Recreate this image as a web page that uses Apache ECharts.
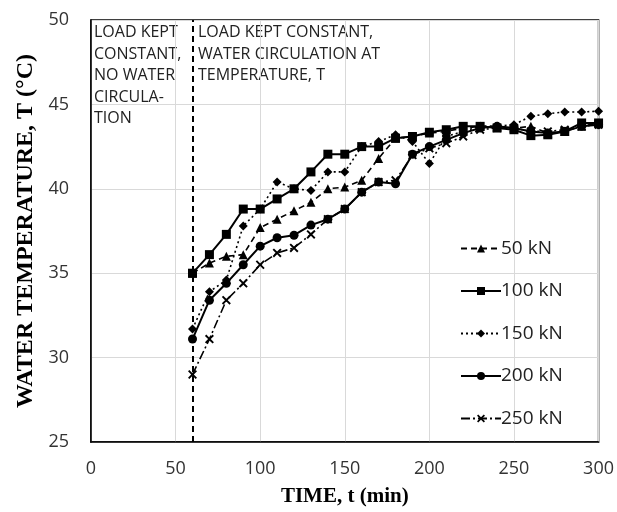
<!DOCTYPE html>
<html><head><meta charset="utf-8">
<script src="https://cdn.jsdelivr.net/npm/echarts@6/dist/echarts.min.js"></script>
<style>html,body{margin:0;padding:0;background:#fff}#c{width:617px;height:512px}</style>
</head><body><div id="c"></div>
<script>
const time = [60,70,80,90,100,110,120,130,140,150,160,170,180,190,200,210,220,230,240,250,260,270,280,290,300];
const s50  = [35.0,35.6,36.0,36.1,37.7,38.2,38.7,39.2,40.0,40.1,40.5,41.8,43.0,43.1,43.3,43.4,43.6,43.7,43.7,43.6,43.7,43.3,43.4,43.7,43.9];
const s100 = [35.0,36.1,37.3,38.8,38.8,39.4,40.0,41.0,42.05,42.05,42.5,42.5,43.0,43.1,43.35,43.5,43.7,43.7,43.6,43.5,43.15,43.2,43.4,43.9,43.9];
const s150 = [31.7,33.9,34.6,37.8,38.8,40.4,40.0,39.9,41.0,41.0,42.5,42.8,43.2,42.8,41.5,43.1,43.4,43.7,43.7,43.8,44.3,44.45,44.55,44.55,44.6];
const s200 = [31.1,33.4,34.4,35.5,36.6,37.1,37.25,37.85,38.2,38.8,39.8,40.4,40.3,42.05,42.5,42.9,43.3,43.6,43.7,43.6,43.4,43.3,43.4,43.7,43.8];
const s250 = [29.0,31.1,33.4,34.4,35.5,36.2,36.5,37.3,38.2,38.8,39.8,40.4,40.5,42.0,42.4,42.7,43.1,43.5,43.6,43.6,43.4,43.4,43.5,43.7,43.8];
const seriesNames = ['50 kN','100 kN','150 kN','200 kN','250 kN'];
const phaseX = 60;
const noteLeft = 'LOAD KEPT\nCONSTANT,\nNO WATER\nCIRCULA-\nTION';
const noteRight = 'LOAD KEPT CONSTANT,\nWATER CIRCULATION AT\nTEMPERATURE, T';

const xPath = 'path://M0,1.5 L1.5,0 L5,3.5 L8.5,0 L10,1.5 L6.5,5 L10,8.5 L8.5,10 L5,6.5 L1.5,10 L0,8.5 L3.5,5 Z';
function pts(arr){ return time.map((t,i)=>[t,arr[i]]); }
const chart = echarts.init(document.getElementById('c'));
const sans = '"Open Sans", "Noto Sans", sans-serif';
const serif = '"Liberation Serif", "DejaVu Serif", serif';
function mk(name, data, symbol, size, ltype, lw){
  return {name:name, type:'line', data:pts(data), symbol:symbol, symbolSize:size,
    itemStyle:{color:'#000'}, lineStyle:{color:'#000', width:lw, type:ltype}, animation:false};
}
const series = [
  mk(seriesNames[0], s50, 'triangle', 9, [6,4], 1.6),
  mk(seriesNames[1], s100, 'rect', 9, 'solid', 2),
  mk(seriesNames[2], s150, 'diamond', 9, [2,3], 1.6),
  mk(seriesNames[3], s200, 'circle', 9, 'solid', 2),
  mk(seriesNames[4], s250, xPath, 9, [9,3,2,3], 1.6)
];
series[0].markLine = {silent:true, symbol:['none','none'], label:{show:false},
  lineStyle:{color:'#000', type:[6,4], width:2}, data:[{xAxis:phaseX}]};
chart.setOption({
  animation:false,
  grid:{left:91, right:18, top:20, bottom:70, show:true, borderColor:'#000', borderWidth:1.5},
  xAxis:{type:'value', min:0, max:300, interval:50,
    name:'TIME, t (min)', nameLocation:'middle', nameGap:44,
    nameTextStyle:{fontFamily:serif, fontWeight:'bold', fontSize:21, color:'#000'},
    axisLine:{lineStyle:{color:'#000', width:1.5}}, axisTick:{show:false},
    axisLabel:{fontFamily:sans, fontSize:18, color:'#333', margin:18},
    splitLine:{lineStyle:{color:'#d9d9d9', width:1}}},
  yAxis:{type:'value', min:25, max:50, interval:5,
    name:'WATER TEMPERATURE, T (°C)', nameLocation:'middle', nameGap:52,
    nameTextStyle:{fontFamily:serif, fontWeight:'bold', fontSize:24, color:'#000'},
    axisLine:{show:true, lineStyle:{color:'#000', width:1.5}}, axisTick:{show:false},
    axisLabel:{fontFamily:sans, fontSize:18, color:'#333', margin:22},
    splitLine:{lineStyle:{color:'#d9d9d9', width:1}}},
  legend:{orient:'vertical', left:455, top:234, itemWidth:40, itemHeight:10, itemGap:23.5,
    data:seriesNames, textStyle:{fontFamily:sans, fontSize:19, color:'#222', padding:[0,0,0,-5]}},
  graphic:[
    {type:'text', left:94, top:22, style:{text:noteLeft, font:'16px "Open Sans", sans-serif', fill:'#222', lineHeight:21.5}},
    {type:'text', left:198, top:22, style:{text:noteRight, font:'16px "Open Sans", sans-serif', fill:'#222', lineHeight:21.5}}
  ],
  series:series
});
</script></body></html>
